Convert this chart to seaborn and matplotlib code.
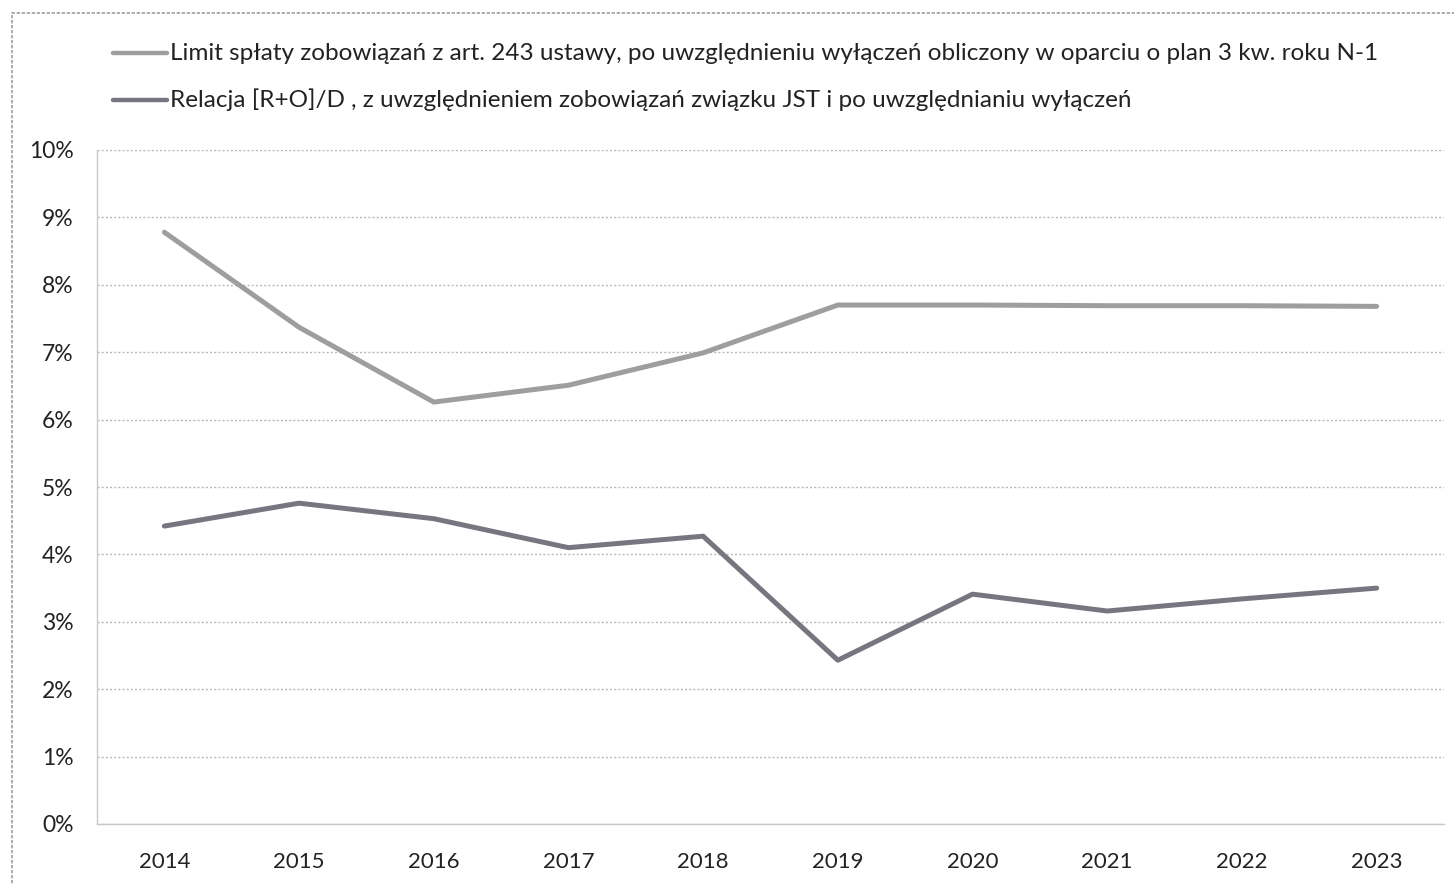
import matplotlib
matplotlib.use("Agg")
import matplotlib.pyplot as plt
from matplotlib.patches import Rectangle
from matplotlib.lines import Line2D
from matplotlib.ticker import FixedLocator, PercentFormatter
import numpy as np
import pandas as pd
import seaborn as sns

years = [2014, 2015, 2016, 2017, 2018, 2019, 2020, 2021, 2022, 2023]
limit_values = [8.78, 7.37, 6.26, 6.51, 6.99, 7.70, 7.70, 7.69, 7.69, 7.68]
relacja_values = [4.42, 4.76, 4.53, 4.10, 4.27, 2.43, 3.41, 3.16, 3.34, 3.50]
series_labels = [
    "Limit spłaty zobowiązań z art. 243 ustawy, po uwzględnieniu wyłączeń obliczony w oparciu o plan 3 kw. roku N-1",
    "Relacja [R+O]/D , z uwzględnieniem zobowiązań związku JST i po uwzględnianiu wyłączeń",
]
y_ticks = [0, 1, 2, 3, 4, 5, 6, 7, 8, 9, 10]

colors = ["#9e9ea0", "#787581"]

df = pd.DataFrame({
    "rok": years * 2,
    "wartosc": limit_values + relacja_values,
    "seria": [series_labels[0]] * len(years) + [series_labels[1]] * len(years),
})

sns.set_style("white")
plt.rcParams["font.family"] = ["Lato", "DejaVu Sans"]

fig = plt.figure(figsize=(14.54, 8.85), dpi=100)
ax = fig.add_axes([97 / 1454, 1 - 824 / 885, (1444 - 97) / 1454, (824 - 150) / 885])

sns.lineplot(data=df, x="rok", y="wartosc", hue="seria", palette=colors,
             linewidth=3.6, ax=ax, legend=False, sort=False)

ax.set_xlim(years[0] - 0.5, years[-1] + 0.5)
ax.set_ylim(0, 10)
ax.set_xlabel("")
ax.set_ylabel("")

ax.set_yticks(y_ticks)
ax.yaxis.set_major_formatter(PercentFormatter(decimals=0))
ax.set_xticks(years)
ax.set_xticklabels([str(y) for y in years])
ax.xaxis.set_minor_locator(FixedLocator(np.arange(years[0] - 0.5, years[-1] + 1.0, 1.0)))

ax.grid(axis="y", color="#b8b8b8", linestyle=(0, (1.5, 1.5)), linewidth=1.0)
ax.grid(axis="x", visible=False)

for side in ["top", "right"]:
    ax.spines[side].set_visible(False)
ax.spines["left"].set_color("#c8c8c8")
ax.spines["bottom"].set_color("#c8c8c8")
ax.spines["left"].set_linewidth(1.0)
ax.spines["bottom"].set_linewidth(1.0)

ax.tick_params(axis="x", which="major", length=0, pad=20, labelsize=16, labelcolor="#222222")
ax.tick_params(axis="x", which="minor", length=8, direction="inout", color="#b0b0b0", width=1)
ax.tick_params(axis="y", which="major", length=6, direction="out", color="#c8c8c8",
               pad=11, labelsize=16.5, labelcolor="#222222")
ax.tick_params(axis="x", which="major", bottom=False)

# legend drawn in figure coordinates above the plot area
legend_rows = [(53, series_labels[0], colors[0]), (100, series_labels[1], colors[1])]
for ypix, label, col in legend_rows:
    yf = 1 - ypix / 885
    fig.add_artist(Line2D([113 / 1454, 167 / 1454], [yf, yf], color=col, linewidth=3.2,
                          transform=fig.transFigure))
    fig.text(170 / 1454, yf, label, fontsize=17.5, color="#222222", va="center", ha="left")

# outer chart frame
fig.add_artist(Rectangle((12 / 1454, -0.05), 1.2, 1 - 13 / 885 + 0.05, transform=fig.transFigure,
                         fill=False, edgecolor="#a0a0a0", linewidth=1.2, linestyle=(0, (2, 1))))

fig.savefig("out.png", dpi=100, facecolor="white")
